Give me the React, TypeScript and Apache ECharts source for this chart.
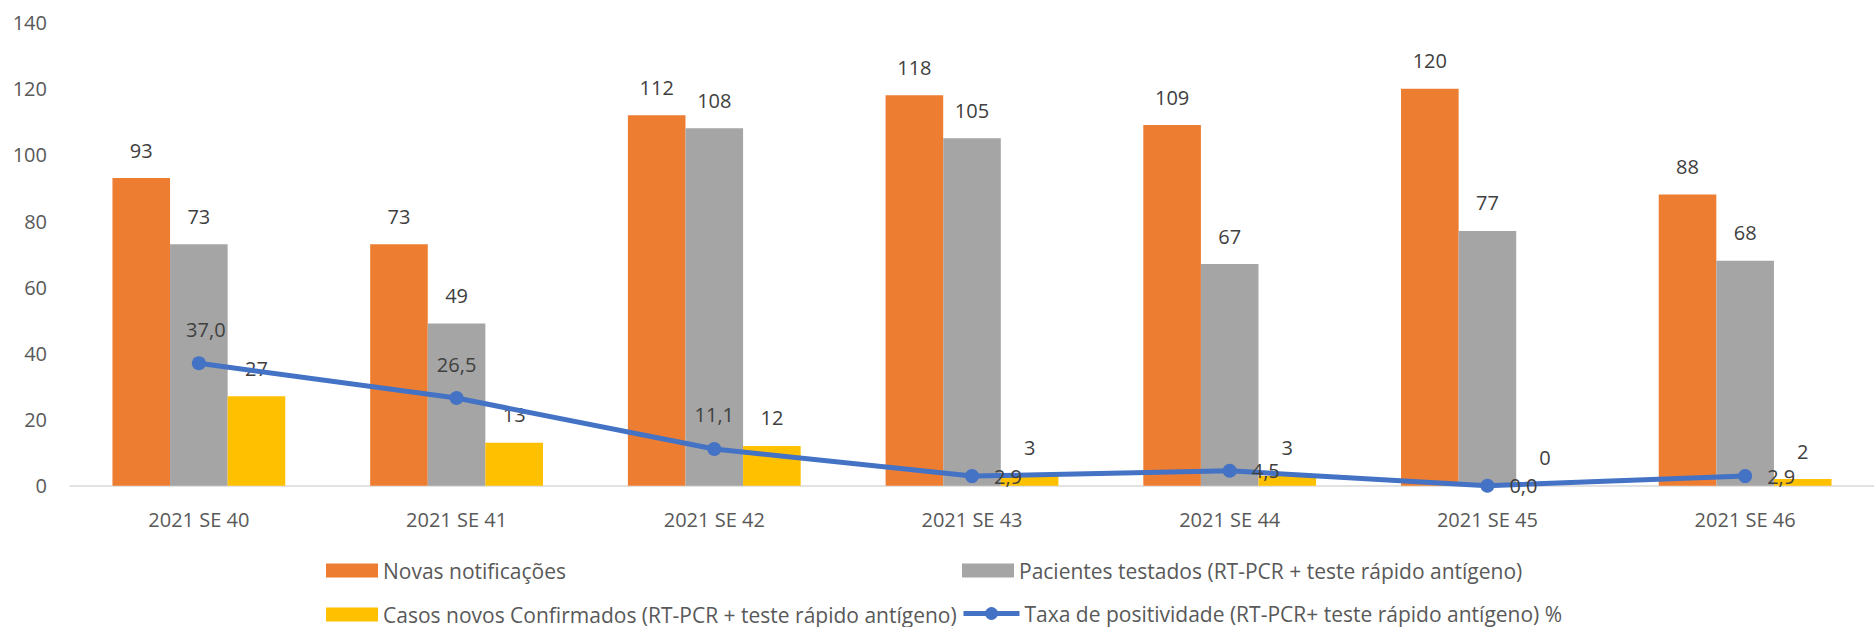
import React, { useEffect, useRef } from "react";
import * as echarts from "echarts";

const categories = ["2021 SE 40", "2021 SE 41", "2021 SE 42", "2021 SE 43", "2021 SE 44", "2021 SE 45", "2021 SE 46"];
const novasNotificacoes = [93, 73, 112, 118, 109, 120, 88];
const pacientesTestados = [73, 49, 108, 105, 67, 77, 68];
const casosConfirmados = [27, 13, 12, 3, 3, 0, 2];
const taxaPositividade = [37.0, 26.5, 11.1, 2.9, 4.5, 0.0, 2.9];
const taxaLabelSide = ["top", "top", "top", "right", "right", "right", "right"];

const seriesNames = [
  "Novas notificações",
  "Pacientes testados (RT-PCR + teste rápido antígeno)",
  "Casos novos Confirmados (RT-PCR + teste rápido antígeno)",
  "Taxa de positividade (RT-PCR+ teste rápido antígeno) %",
];

const FONT = "'Open Sans', 'Noto Sans', sans-serif";
const LABEL_COLOR = "#404040";

export default function App() {
  const ref = useRef<HTMLDivElement>(null);

  useEffect(() => {
    if (!ref.current) return;
    const chart = echarts.init(ref.current, undefined, { renderer: "svg" });

    const barLabel = {
      show: true,
      position: "top",
      distance: 18,
      color: LABEL_COLOR,
      fontSize: 20,
      fontFamily: FONT,
    };

    const legendBase = {
      orient: "horizontal",
      itemWidth: 52,
      itemHeight: 14,
      itemGap: 0,
      padding: 0,
      textStyle: { color: "#595959", fontSize: 21, fontFamily: FONT, lineHeight: 21 },
    };

    chart.setOption({
      animation: false,
      textStyle: { fontFamily: FONT },
      grid: { left: 70, top: 22.5, width: 1814.4, height: 463.2, containLabel: false },
      legend: [
        { ...legendBase, data: [{ name: seriesNames[0], icon: "rect" }], left: 326, top: 560 },
        { ...legendBase, data: [{ name: seriesNames[1], icon: "rect" }], left: 962, top: 560 },
        { ...legendBase, data: [{ name: seriesNames[2], icon: "rect" }], left: 326, top: 604 },
        {
          ...legendBase,
          itemWidth: 56,
          itemHeight: 16,
          lineStyle: { width: 5 },
          data: [{ name: seriesNames[3] }],
          left: 961,
          top: 603,
        },
      ],
      xAxis: {
        type: "category",
        data: categories,
        boundaryGap: true,
        axisTick: { show: false },
        axisLine: { show: true, lineStyle: { color: "#D9D9D9", width: 1.5 } },
        axisLabel: { color: "#595959", fontSize: 20, fontFamily: FONT, margin: 24 },
        splitLine: { show: false },
      },
      yAxis: {
        type: "value",
        min: 0,
        max: 140,
        interval: 20,
        axisLine: { show: false },
        axisTick: { show: false },
        splitLine: { show: false },
        axisLabel: { color: "#595959", fontSize: 20, fontFamily: FONT, margin: 23 },
      },
      series: [
        {
          name: seriesNames[0],
          type: "bar",
          data: novasNotificacoes,
          barWidth: 57.6,
          barGap: "0%",
          itemStyle: { color: "#ED7D31" },
          label: barLabel,
        },
        {
          name: seriesNames[1],
          type: "bar",
          data: pacientesTestados,
          barWidth: 57.6,
          barGap: "0%",
          itemStyle: { color: "#A5A5A5" },
          label: barLabel,
        },
        {
          name: seriesNames[2],
          type: "bar",
          data: casosConfirmados,
          barWidth: 57.6,
          barGap: "0%",
          itemStyle: { color: "#FFC000" },
          label: barLabel,
        },
        {
          name: seriesNames[3],
          type: "line",
          z: 5,
          data: taxaPositividade.map((v, i) => ({
            value: v,
            label: {
              position: taxaLabelSide[i],
              distance: taxaLabelSide[i] === "top" ? 17 : 15,
              offset: i === 0 ? [7, 0] : [0, 0],
            },
          })),
          symbol: "circle",
          symbolSize: 14,
          lineStyle: { color: "#4472C4", width: 5 },
          itemStyle: { color: "#4472C4" },
          label: {
            show: true,
            color: LABEL_COLOR,
            fontSize: 20,
            fontFamily: FONT,
            formatter: (p: any) => Number(p.value).toFixed(1).replace(".", ","),
          },
        },
      ],
    });

    return () => chart.dispose();
  }, []);

  return (
    <div
      ref={ref}
      style={{ position: "absolute", left: 0, top: 0, width: 1874, height: 627, background: "#fff" }}
    />
  );
}
